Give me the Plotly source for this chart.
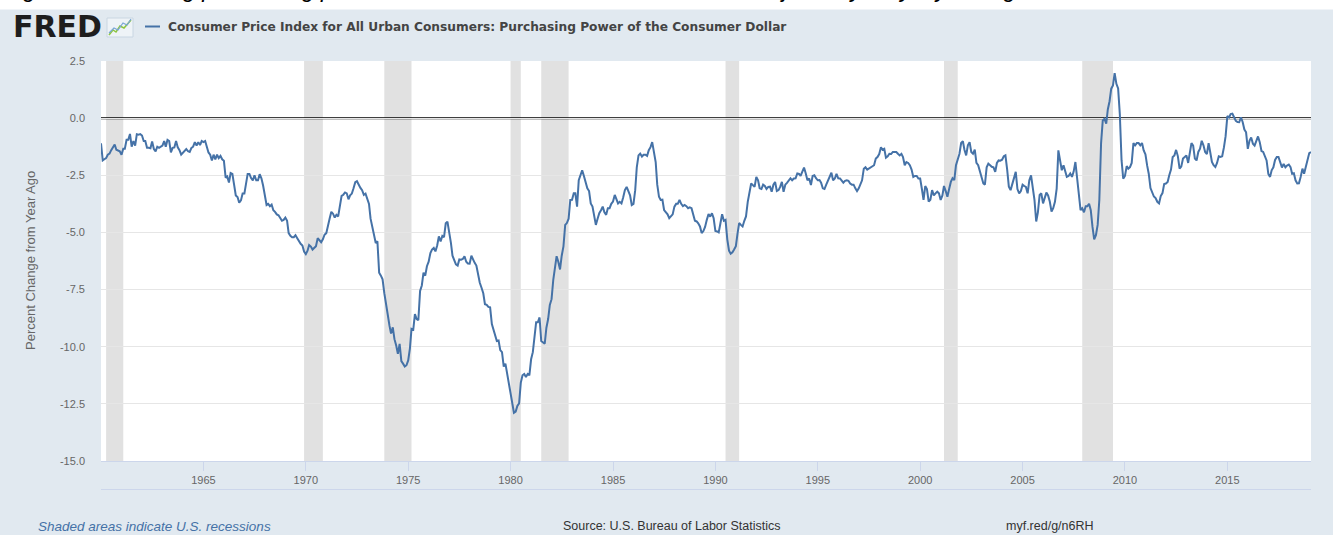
import pandas as pd
import plotly.graph_objects as go

# ---------------- data (percent change from year ago) ----------------
pp_1960s = [
    -1.10, -1.85, -1.80, -1.75, -1.60, -1.55, -1.40, -1.30, -1.15, -1.38, -1.42, -1.45,
    -1.60, -1.34, -1.34, -0.95, -0.95, -0.69, -1.25, -1.00, -1.20, -0.70, -0.72, -0.70,
    -0.76, -1.00, -1.00, -1.30, -1.30, -1.32, -1.02, -1.35, -1.45, -1.25, -1.30, -1.25,
    -1.20, -1.00, -1.25, -0.95, -1.00, -1.50, -1.30, -1.28, -1.00, -1.28, -1.40, -1.60,
    -1.50, -1.42, -1.35, -1.45, -1.48, -1.30, -1.25, -1.05, -1.20, -1.05, -1.18, -1.00,
    -1.05, -1.00, -1.25, -1.50, -1.60, -1.85, -1.60, -1.80, -1.60, -1.75, -1.65, -1.80,
    -1.86, -2.60, -2.55, -2.82, -2.40, -2.44, -2.90, -3.38, -3.45, -3.70, -3.60, -3.30,
    -3.30, -2.72, -2.44, -2.44, -2.62, -2.72, -2.50, -2.72, -2.72, -2.45, -2.63, -2.95,
    -3.45, -3.80, -3.75, -3.85, -3.78, -4.03, -4.10, -4.21, -4.25, -4.40, -4.49, -4.45,
    -4.35, -4.49, -5.03, -5.15, -5.21, -5.21, -5.12, -5.25, -5.39, -5.50, -5.57, -5.84,
]
pp_1970s = [
    -5.95, -5.80, -5.55, -5.62, -5.75, -5.66, -5.60, -5.25, -5.35, -5.43, -5.30, -5.10,
    -5.03, -4.76, -4.40, -4.10, -4.18, -4.35, -4.23, -4.30, -3.90, -3.40, -3.35, -3.25,
    -3.29, -3.55, -3.38, -3.30, -3.07, -2.80, -2.76, -2.93, -3.05, -3.15, -3.36, -3.30,
    -3.58, -3.75, -4.40, -4.74, -5.15, -5.46, -5.39, -6.76, -6.89, -7.05, -7.66, -8.21,
    -8.59, -9.08, -9.42, -9.15, -9.67, -9.95, -10.31, -9.88, -10.63, -10.74, -10.87, -10.81,
    -10.60, -10.07, -9.22, -9.26, -8.57, -8.79, -8.84, -7.56, -7.32, -6.76, -6.89, -6.48,
    -6.28, -5.90, -5.75, -5.68, -5.83, -5.57, -5.17, -5.39, -5.15, -5.21, -4.60, -4.53,
    -4.94, -5.46, -6.02, -6.26, -6.40, -6.45, -6.18, -6.19, -6.16, -6.04, -6.28, -6.36,
    -6.37, -6.02, -6.19, -6.33, -6.45, -6.89, -7.20, -7.42, -7.66, -8.14, -8.17, -8.26,
    -8.28, -9.01, -9.22, -9.50, -9.75, -9.73, -10.15, -10.24, -10.87, -10.74, -11.19, -11.74,
]
pp_1980s = [
    -12.20, -12.62, -12.89, -12.84, -12.59, -12.48, -11.58, -11.25, -11.19, -11.32, -11.19, -11.25,
    -10.55, -10.24, -9.50, -8.93, -8.93, -8.72, -9.75, -9.80, -9.87, -9.17, -8.79, -8.17,
    -7.92, -7.06, -6.47, -6.04, -6.28, -6.62, -6.02, -5.61, -4.67, -4.59, -4.40, -3.58,
    -3.57, -3.29, -3.29, -3.87, -2.71, -2.53, -2.28, -2.53, -2.86, -3.07, -3.19, -3.73,
    -3.87, -4.40, -4.67, -4.40, -4.16, -4.03, -3.87, -4.12, -4.23, -3.94, -3.94, -3.75,
    -3.65, -3.36, -3.57, -3.73, -3.66, -3.73, -3.47, -3.15, -3.01, -3.22, -3.38, -3.80,
    -3.75, -3.15, -2.15, -1.63, -1.55, -1.68, -1.60, -1.60, -1.65, -1.40, -1.27, -1.05,
    -1.48, -1.92, -2.91, -3.44, -3.58, -3.57, -4.02, -4.12, -4.21, -4.38, -4.31, -4.21,
    -3.87, -3.75, -3.75, -3.58, -3.75, -3.85, -3.80, -3.85, -3.94, -3.90, -3.94, -4.21,
    -4.49, -4.52, -4.60, -4.74, -5.03, -4.94, -4.76, -4.45, -4.19, -4.31, -4.16, -4.38,
]
pp_1990s = [
    -4.94, -4.96, -5.00, -4.60, -4.20, -4.49, -4.45, -5.30, -5.80, -5.93, -5.87, -5.75,
    -5.60, -5.03, -4.59, -4.67, -4.74, -4.49, -4.30, -3.66, -3.29, -2.86, -2.93, -3.01,
    -2.57, -2.72, -3.07, -3.10, -2.91, -2.97, -3.10, -3.01, -3.00, -3.22, -2.91, -2.79,
    -3.19, -3.15, -3.01, -2.79, -3.22, -2.91, -2.83, -2.74, -2.63, -2.72, -2.64, -2.63,
    -2.42, -2.44, -2.53, -2.34, -2.16, -2.42, -2.72, -2.64, -2.93, -2.53, -2.50, -2.63,
    -2.72, -2.71, -2.82, -3.07, -3.10, -2.91, -2.71, -2.53, -2.39, -2.72, -2.64, -2.44,
    -2.63, -2.64, -2.72, -2.82, -2.74, -2.72, -2.74, -2.86, -2.91, -2.91, -3.07, -3.19,
    -3.07, -2.91, -2.72, -2.21, -2.15, -2.25, -2.21, -2.15, -2.13, -2.06, -1.77, -1.70,
    -1.57, -1.27, -1.38, -1.34, -1.73, -1.67, -1.56, -1.57, -1.48, -1.48, -1.48, -1.56,
    -1.63, -1.56, -1.70, -2.06, -1.92, -1.96, -2.06, -2.25, -2.57, -2.53, -2.53, -2.64,
]
pp_2000s = [
    -2.64, -3.10, -3.58, -2.97, -3.10, -3.65, -3.57, -3.15, -3.38, -3.29, -3.22, -3.29,
    -3.58, -3.38, -2.97, -3.19, -3.44, -3.10, -2.79, -2.63, -2.71, -2.06, -1.85, -1.57,
    -1.09, -1.01, -1.38, -1.63, -1.19, -1.05, -1.48, -1.56, -1.38, -1.96, -2.06, -2.34,
    -2.53, -2.86, -2.91, -2.15, -1.99, -2.06, -2.13, -2.15, -2.35, -1.96, -1.85, -1.86,
    -1.82, -1.67, -1.63, -2.25, -3.00, -3.15, -2.91, -2.63, -2.35, -3.10, -3.29, -3.19,
    -2.91, -2.97, -3.01, -3.29, -2.72, -2.50, -3.10, -3.58, -4.52, -4.12, -3.36, -3.29,
    -3.73, -3.47, -3.26, -3.38, -3.65, -4.09, -3.94, -3.66, -3.08, -1.41, -1.96, -2.28,
    -2.06, -2.34, -2.57, -2.53, -2.42, -2.57, -2.34, -1.92, -2.72, -3.38, -4.02, -3.94,
    -4.12, -3.85, -3.85, -3.75, -4.03, -4.76, -5.30, -5.12, -4.67, -3.57, -1.09, -0.10,
    -0.03, -0.24, 0.38, 0.74, 1.29, 1.43, 1.97, 1.50, 1.30, 0.18, -1.84, -2.65,
]
pp_2010s = [
    -2.53, -2.10, -2.21, -2.14, -1.96, -1.09, -1.19, -1.09, -1.09, -1.19, -1.09, -1.41,
    -1.58, -2.08, -2.43, -3.06, -3.23, -3.43, -3.50, -3.66, -3.73, -3.41, -3.28, -2.88,
    -2.86, -2.79, -2.50, -2.25, -1.70, -1.63, -1.39, -1.66, -2.21, -2.12, -1.77, -1.71,
    -1.63, -1.96, -1.48, -1.09, -1.20, -1.77, -1.85, -1.48, -1.34, -0.99, -1.19, -1.48,
    -1.57, -1.09, -1.48, -1.92, -2.06, -2.14, -1.96, -1.67, -1.70, -1.67, -1.28, -0.79,
    0.09, 0.03, 0.18, 0.20, 0.04, -0.12, -0.17, -0.18, 0.04, -0.17, -0.50, -0.62,
    -1.34, -0.98, -0.85, -1.12, -1.20, -0.99, -0.80, -1.05, -1.44, -1.48, -1.66, -1.85,
    -2.44, -2.57, -2.28, -2.15, -1.83, -1.70, -1.70, -1.90, -2.16, -2.00, -2.15, -2.07,
    -2.03, -2.14, -2.43, -2.41, -2.72, -2.86, -2.85, -2.57, -2.21, -2.43, -2.13, -1.92,
    -1.53, -1.48,
]
series_start = "1960-01-01"

recession_starts = ["1960-04-01", "1969-12-01", "1973-11-01", "1980-01-01",
                    "1981-07-01", "1990-07-01", "2001-03-01", "2007-12-01"]
recession_ends = ["1961-02-01", "1970-11-01", "1975-03-01", "1980-07-01",
                  "1982-11-01", "1991-03-01", "2001-11-01", "2009-06-01"]

x_tick_years = [1965, 1970, 1975, 1980, 1985, 1990, 1995, 2000, 2005, 2010, 2015]
y_tick_values = [2.5, 0.0, -2.5, -5.0, -7.5, -10.0, -12.5, -15.0]
y_tick_labels = ["2.5", "0.0", "-2.5", "-5.0", "-7.5", "-10.0", "-12.5", "-15.0"]

series_name = "Consumer Price Index for All Urban Consumers: Purchasing Power of the Consumer Dollar"
y_title = "Percent Change from Year Ago"

# ---------------- figure ----------------
values = pp_1960s + pp_1970s + pp_1980s + pp_1990s + pp_2000s + pp_2010s
dates = pd.date_range(series_start, periods=len(values), freq="MS")

W, H = 1333, 535
L, R, T, B = 101, 22, 61, 74
PW, PH = W - L - R, H - T - B


def px(xp):
    return (xp - L) / PW


def py(yp):
    return (T + PH - yp) / PH


BLUE = "#4572a7"
FONT = "Liberation Sans"

fig = go.Figure()
fig.add_trace(go.Scatter(x=dates, y=values, mode="lines",
                         line=dict(color=BLUE, width=2), hoverinfo="skip",
                         name=series_name))

shapes = []
# white strip at the very top of the page
shapes.append(dict(type="rect", xref="paper", yref="paper", x0=px(-5), x1=px(W + 5),
                   y0=py(9.5), y1=py(-5), fillcolor="white", line=dict(width=0), layer="below"))
for s, e in zip(recession_starts, recession_ends):
    shapes.append(dict(type="rect", xref="x", yref="paper", x0=s, x1=e, y0=0, y1=1,
                       fillcolor="#e1e1e1", line=dict(width=0), layer="between"))
shapes.append(dict(type="line", xref="paper", yref="y", x0=0, x1=1, y0=0, y1=0,
                   line=dict(color="black", width=2), layer="between"))
# light rule under the x axis labels
shapes.append(dict(type="line", xref="paper", yref="paper", x0=0, x1=1,
                   y0=py(489.5), y1=py(489.5), line=dict(color="#ccd6eb", width=1)))
# legend swatch
shapes.append(dict(type="line", xref="paper", yref="paper", x0=px(145), x1=px(160),
                   y0=py(26.5), y1=py(26.5), line=dict(color=BLUE, width=2)))
# small FRED graph icon
shapes.append(dict(type="rect", xref="paper", yref="paper", x0=px(107), x1=px(133),
                   y0=py(37), y1=py(18), fillcolor="#eef3f7", line=dict(color="#c9d6e2", width=1)))


def path(pts):
    return "M " + " L ".join(f"{px(a)},{py(b)}" for a, b in pts)


shapes.append(dict(type="path", xref="paper", yref="paper",
                   path=path([(109, 35), (113, 30), (116, 32), (120, 26), (124, 28), (131, 20)]),
                   line=dict(color="#8dc63f", width=1.5)))
shapes.append(dict(type="path", xref="paper", yref="paper",
                   path=path([(109, 33), (114, 28), (118, 30), (123, 23), (127, 25), (131, 19)]),
                   line=dict(color="#7aa6d6", width=1.2)))

annotations = [
    dict(text="<i>Figure 1: Declining purchasing power of the consumer dollar, 1960–2019, adjusted yearly, by change</i>",
         xref="paper", yref="paper", x=px(2), y=py(4), xanchor="left", yanchor="bottom",
         showarrow=False, font=dict(family=FONT, size=23, color="black")),
    dict(text="<b>FRED</b>", xref="paper", yref="paper", x=px(11), y=py(26.5),
         xanchor="left", yanchor="middle", showarrow=False,
         font=dict(family="DejaVu Sans", size=30, color="#1e1e1e")),
    dict(text="<b>" + series_name + "</b>", xref="paper", yref="paper", x=px(166), y=py(26.5),
         xanchor="left", yanchor="middle", showarrow=False,
         font=dict(family="DejaVu Sans", size=12.2, color="#444444")),
    dict(text=y_title, xref="paper", yref="paper", x=px(30), y=0.5, textangle=-90,
         xanchor="center", yanchor="middle", showarrow=False,
         font=dict(family=FONT, size=13, color="#666666")),
    dict(text="<i>Shaded areas indicate U.S. recessions</i>", xref="paper", yref="paper",
         x=px(36), y=py(526), xanchor="left", yanchor="middle", showarrow=False,
         font=dict(family=FONT, size=13.5, color="#4572a7")),
    dict(text="Source: U.S. Bureau of Labor Statistics", xref="paper", yref="paper",
         x=px(561), y=py(526), xanchor="left", yanchor="middle", showarrow=False,
         font=dict(family=FONT, size=12.5, color="#333333")),
    dict(text="myf.red/g/n6RH", xref="paper", yref="paper",
         x=px(1004), y=py(526), xanchor="left", yanchor="middle", showarrow=False,
         font=dict(family=FONT, size=12.5, color="#333333")),
]

fig.update_layout(
    width=W, height=H,
    margin=dict(l=L, r=R, t=T, b=B, pad=0),
    paper_bgcolor="#e1e9f0",
    plot_bgcolor="white",
    showlegend=False,
    shapes=shapes,
    annotations=annotations,
    font=dict(family=FONT),
    xaxis=dict(
        type="date",
        range=[series_start, "2019-02-01"],
        tickvals=[f"{y}-01-01" for y in x_tick_years],
        ticktext=[str(y) for y in x_tick_years],
        ticks="outside", ticklen=9, tickcolor="#ccd6eb", tickwidth=1,
        showgrid=False, zeroline=False,
        showline=True, linecolor="#ccd6eb", linewidth=1,
        tickfont=dict(family=FONT, size=11, color="#666666"),
        fixedrange=True,
    ),
    yaxis=dict(
        range=[-15, 2.5],
        tickvals=y_tick_values,
        ticktext=y_tick_labels,
        ticks="", showgrid=True, gridcolor="#e6e6e6", gridwidth=1,
        zeroline=False, showline=False,
        ticklabelstandoff=15,
        tickfont=dict(family=FONT, size=11, color="#666666"),
        fixedrange=True,
    ),
)

fig.write_html("out.html",
               config={"displayModeBar": False},
               post_script="document.body.style.margin='0';document.body.style.overflow='hidden';")
